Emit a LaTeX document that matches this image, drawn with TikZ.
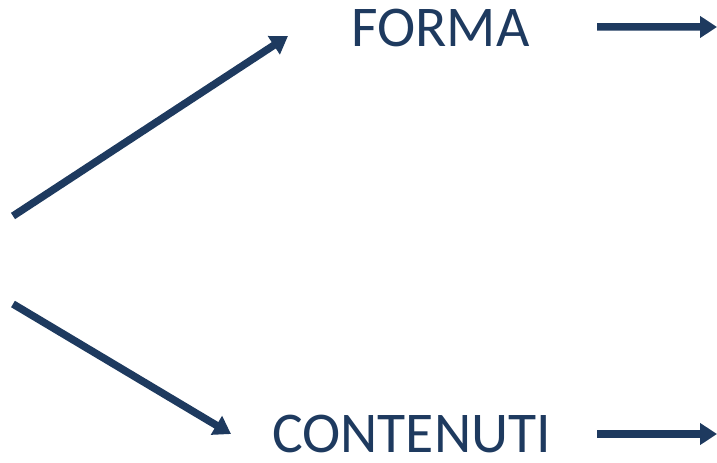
\documentclass[tikz,border=0pt]{standalone}
\usepackage{fontspec}
\setmainfont{Carlito}
\usetikzlibrary{arrows.meta}
\definecolor{navy}{HTML}{1E3A5F}

\begin{document}
\begin{tikzpicture}[
    label/.style={inner sep=0pt, anchor=base, text=navy, font=\fontsize{16.4}{18}\selectfont},
    arrow/.style={-{Triangle[length=0.17cm, width=0.21cm]}, line width=0.075cm, draw=navy},
    ]
    \useasboundingbox (0,0) rectangle (7.17,4.62);
    % Nodes
    \node[label] (forma) at (4.405,4.15) {FORMA};
    \node[label] (contenuti) at (4.115,0.1) {CONTENUTI};
    \coordinate (up) at (0.13,2.46);
    \coordinate (down) at (0.13,1.58);
    \coordinate (formain) at (2.88,4.26);
    \coordinate (contin) at (2.31,0.28);
    \coordinate (formaout) at (7.17,4.35);
    \coordinate (contout) at (7.17,0.28);

    % Edges
    \draw[arrow] (up) -- (formain);
    \draw[arrow] (down) -- (contin);
    \draw[arrow] (forma.base -| 5.97,0) ++(0,0.2) -- (formaout);
    \draw[arrow] (contenuti.base -| 5.97,0) ++(0,0.18) -- (contout);
\end{tikzpicture}
\end{document}
